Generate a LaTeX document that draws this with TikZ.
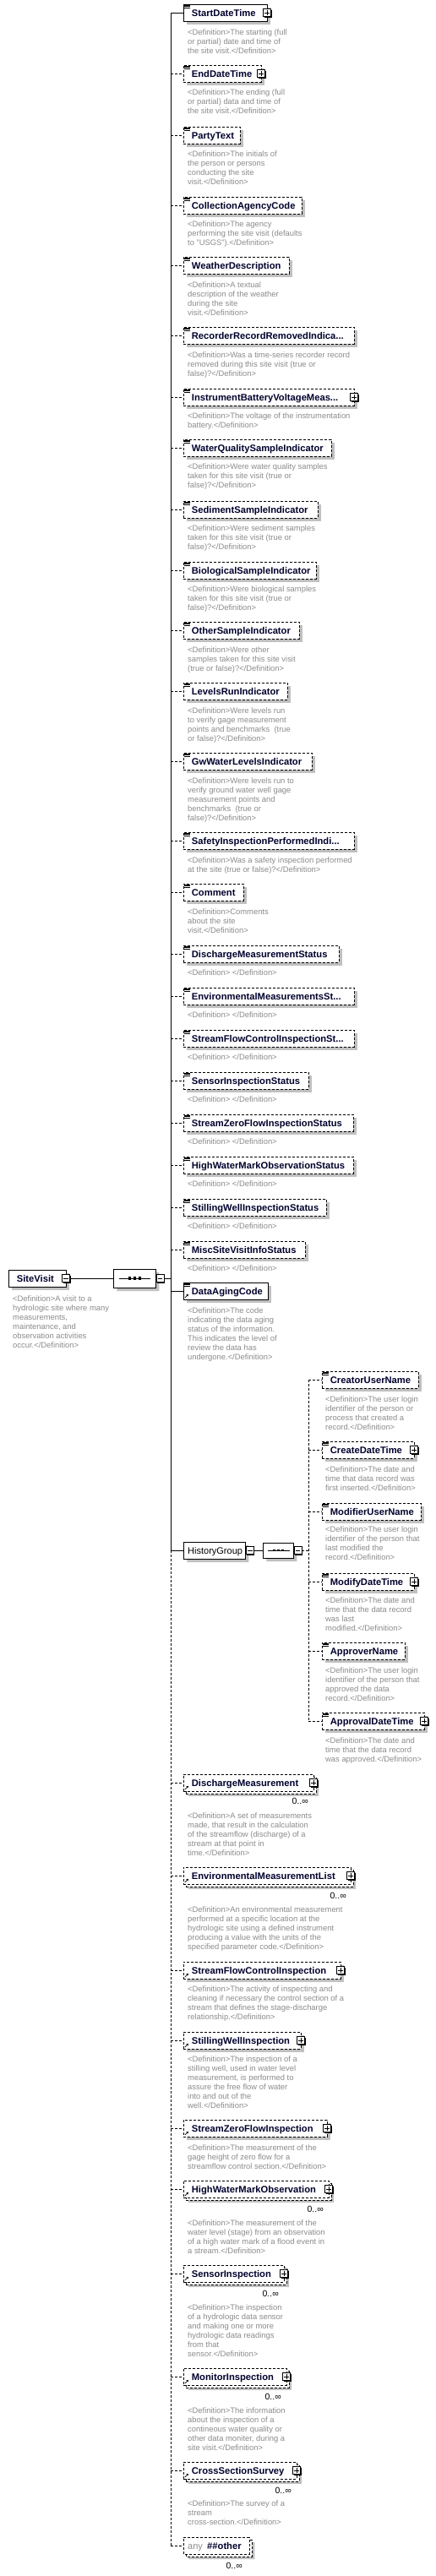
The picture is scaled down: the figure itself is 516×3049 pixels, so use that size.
\documentclass[tikz,border=0pt]{standalone}
\usepackage{fontspec}
\setmainfont{Liberation Sans}
\usetikzlibrary{shapes.misc,shadows,arrows.meta}
\definecolor{shgray}{RGB}{192,192,192}
\definecolor{defgray}{RGB}{140,140,140}
\definecolor{lblcol}{RGB}{0,0,45}
\tikzset{
 elbox/.style={draw=black, fill=white, line width=0.9pt, minimum height=20pt, inner sep=0pt, outer sep=0pt},
 shad/.style={drop shadow={shadow xshift=4pt, shadow yshift=-4pt, fill=shgray, opacity=1}},
 shadb/.style={drop shadow={shadow xshift=3pt, shadow yshift=-3pt, fill=shgray, opacity=1}},
 dsh/.style={dash pattern=on 3pt off 2pt},
 conn/.style={draw=black, line width=0.9pt},
 lbl/.style={inner sep=0pt, font=\fontsize{11.2}{13}\selectfont\bfseries, text=lblcol},
 glbl/.style={inner sep=0pt, font=\fontsize{11}{13}\selectfont},
 deftext/.style={inner sep=0pt, align=left, font=\fontsize{9.4}{11}\selectfont, text=defgray},
 occ/.style={inner sep=0pt, font=\fontsize{10.5}{12}\selectfont, text=black},
 icon/.style={line width=0.6pt, black},
 refarr/.style={line width=0.8pt, -{Stealth[length=2.6pt,width=2.8pt]}},
 pbox/.style={draw=black, fill=white, line width=0.8pt, minimum size=9pt, inner sep=0pt, drop shadow={shadow xshift=1pt, shadow yshift=-1pt, fill=black, opacity=1}},
 plusbox/.style={pbox, path picture={\draw[line width=0.8pt] ([xshift=-2.6pt]path picture bounding box.center) -- ([xshift=2.6pt]path picture bounding box.center) ([yshift=-2.6pt]path picture bounding box.center) -- ([yshift=2.6pt]path picture bounding box.center);}},
 minusbox/.style={pbox, path picture={\draw[line width=0.8pt] ([xshift=-2.6pt]path picture bounding box.center) -- ([xshift=2.6pt]path picture bounding box.center);}},
 oct/.style={chamfered rectangle, chamfered rectangle xsep=4pt, draw=black, fill=white, line width=0.9pt, minimum height=20pt, inner sep=0pt},
}
% #1 name #2 left #3 centre y #4 right #5 label #6 style
\newcommand\xEl[6]{%
 \node[elbox,#6,minimum width={#4-#2},anchor=west] (#1) at (#2,#3) {};
 \node[lbl,anchor=base west] (#1-t) at ([xshift=9.7pt,yshift=-4.2pt]#1.west) {#5};}
\newcommand\xBk[4]{%
 \node[elbox,dsh,shadb,minimum width={#4-#2},anchor=west] (#1) at ({#2+3},{#3+3}) {};}
\newcommand\xTx[1]{\draw[icon] ([shift={(1.4,1)}]#1.north west) -- ++(6.4,0) ([shift={(1.4,2.6)}]#1.north west) -- ++(6.4,0) ([shift={(1.4,4.2)}]#1.north west) -- ++(6.4,0);}
\newcommand\xRf[1]{\draw[refarr] ([shift={(2,-2.2)}]#1.south west) -- ++(4,-4);}
\newcommand\xPl[1]{\node[plusbox] (#1-p) at (#1.east) {};}
\newcommand\xMi[2]{\node[minusbox] (#1) at (#2) {};}
\newcommand\xDf[4]{\node[deftext,anchor=north west] (#1) at (#2,{#3-3.8}) {\rule{0pt}{7pt}#4};}
\newcommand\xOc[3]{\node[occ,anchor=base east] (#1) at (#2,{#3+3.6}) {0..∞};}
\newcommand\xCn[2]{\draw[conn,#2] (#1.west -| T) -- (#1.west);}
\newcommand\xCm[2]{\draw[conn,#2] (#1.west -| T2) -- (#1.west);}
\begin{document}
\begin{tikzpicture}[x=1pt,y=-1pt]
\fill[white] (0,0) rectangle (516,3049);
\useasboundingbox (0,0) rectangle (516,3049);
\coordinate (T) at (202,0);
\coordinate (T2) at (365,0);

% ---- root ----
\xEl{SiteVisit}{10}{1513}{78}{SiteVisit}{shad}
\xMi{SiteVisit-m}{SiteVisit.east}
\xDf{SiteVisit-d}{15}{1537}{<Definition>A visit to a\\hydrologic site where many\\measurements,\\maintenance, and\\observation activities\\occur.</Definition>}

\node[oct,shad,minimum width=50pt,minimum height=22pt,anchor=west] (Seq) at (134,1513) {};
\draw[line width=0.9pt] ([xshift=7pt]Seq.west) -- ([xshift=-7pt]Seq.east);
\fill ([xshift=-6pt]Seq.center) +(-1.6,-1.6) rectangle +(1.6,1.6);
\fill (Seq.center) +(-1.6,-1.6) rectangle +(1.6,1.6);
\fill ([xshift=6pt]Seq.center) +(-1.6,-1.6) rectangle +(1.6,1.6);
\xMi{Seq-m}{[xshift=4.5pt]Seq.east}
\draw[conn] (SiteVisit-m.east) -- (Seq.west);
\draw[conn] (Seq-m.east) -- (Seq-m.east -| T);

% ---- children ----
\xEl{StartDateTime}{217}{15}{316}{StartDateTime}{shad}\xTx{StartDateTime}\xPl{StartDateTime}
\xDf{StartDateTime-d}{222}{38}{<Definition>The starting (full\\or partial) date and time of\\the site visit.</Definition>}

\xEl{EndDateTime}{217}{87}{309}{EndDateTime}{dsh,shad}\xTx{EndDateTime}\xPl{EndDateTime}
\xDf{EndDateTime-d}{222}{109}{<Definition>The ending (full\\or partial) data and time of\\the site visit.</Definition>}

\xEl{PartyText}{217}{160}{284}{PartyText}{dsh,shad}\xTx{PartyText}
\xDf{PartyText-d}{222}{182}{<Definition>The initials of\\the person or persons\\conducting the site\\visit.</Definition>}

\xEl{CollectionAgencyCode}{217}{243}{357}{CollectionAgencyCode}{dsh,shad}\xTx{CollectionAgencyCode}
\xDf{CollectionAgencyCode-d}{222}{265}{<Definition>The agency\\performing the site visit (defaults\\to "USGS").</Definition>}

\xEl{WeatherDescription}{217}{314}{342}{WeatherDescription}{dsh,shad}\xTx{WeatherDescription}
\xDf{WeatherDescription-d}{222}{337}{<Definition>A textual\\description of the weather\\during the site\\visit.</Definition>}

\xEl{RecorderRecordRemovedIndicator}{217}{397}{419}{RecorderRecordRemovedIndica...}{dsh,shad}\xTx{RecorderRecordRemovedIndicator}
\xDf{RecorderRecordRemovedIndicator-d}{222}{420}{<Definition>Was a time-series recorder record\\removed during this site visit (true or\\false)?</Definition>}

\xEl{InstrumentBatteryVoltageMeasurement}{217}{470}{419}{InstrumentBatteryVoltageMeas...}{dsh,shad}\xTx{InstrumentBatteryVoltageMeasurement}\xPl{InstrumentBatteryVoltageMeasurement}
\xDf{InstrumentBatteryVoltageMeasurement-d}{222}{492}{<Definition>The voltage of the instrumentation\\battery.</Definition>}

\xEl{WaterQualitySampleIndicator}{217}{530}{392}{WaterQualitySampleIndicator}{dsh,shad}\xTx{WaterQualitySampleIndicator}
\xDf{WaterQualitySampleIndicator-d}{222}{552}{<Definition>Were water quality samples\\taken for this site visit (true or\\false)?</Definition>}

\xEl{SedimentSampleIndicator}{217}{603}{376}{SedimentSampleIndicator}{dsh,shad}\xTx{SedimentSampleIndicator}
\xDf{SedimentSampleIndicator-d}{222}{625}{<Definition>Were sediment samples\\taken for this site visit (true or\\false)?</Definition>}

\xEl{BiologicalSampleIndicator}{217}{675}{374}{BiologicalSampleIndicator}{dsh,shad}\xTx{BiologicalSampleIndicator}
\xDf{BiologicalSampleIndicator-d}{222}{697}{<Definition>Were biological samples\\taken for this site visit (true or\\false)?</Definition>}

\xEl{OtherSampleIndicator}{217}{746}{354}{OtherSampleIndicator}{dsh,shad}\xTx{OtherSampleIndicator}
\xDf{OtherSampleIndicator-d}{222}{769}{<Definition>Were other\\samples taken for this site visit\\(true or false)?</Definition>}

\xEl{LevelsRunIndicator}{217}{818}{340}{LevelsRunIndicator}{dsh,shad}\xTx{LevelsRunIndicator}
\xDf{LevelsRunIndicator-d}{222}{841}{<Definition>Were levels run\\to verify gage measurement\\points and benchmarks~ (true\\or false)?</Definition>}

\xEl{GwWaterLevelsIndicator}{217}{901}{369}{GwWaterLevelsIndicator}{dsh,shad}\xTx{GwWaterLevelsIndicator}
\xDf{GwWaterLevelsIndicator-d}{222}{924}{<Definition>Were levels run to\\verify ground water well gage\\measurement points and\\benchmarks~ (true or\\false)?</Definition>}

\xEl{SafetyInspectionPerformedIndicator}{217}{995}{419}{SafetyInspectionPerformedIndi...}{dsh,shad}\xTx{SafetyInspectionPerformedIndicator}
\xDf{SafetyInspectionPerformedIndicator-d}{222}{1018}{<Definition>Was a safety inspection performed\\at the site (true or false)?</Definition>}

\xEl{Comment}{217}{1056}{288}{Comment}{dsh,shad}\xTx{Comment}
\xDf{Comment-d}{222}{1079}{<Definition>Comments\\about the site\\visit.</Definition>}

\xEl{DischargeMeasurementStatus}{217}{1129}{401}{DischargeMeasurementStatus}{dsh,shad}\xTx{DischargeMeasurementStatus}
\xDf{DischargeMeasurementStatus-d}{222}{1151}{<Definition> </Definition>}

\xEl{EnvironmentalMeasurementsStatus}{217}{1179}{419}{EnvironmentalMeasurementsSt...}{dsh,shad}\xTx{EnvironmentalMeasurementsStatus}
\xDf{EnvironmentalMeasurementsStatus-d}{222}{1201}{<Definition> </Definition>}

\xEl{StreamFlowControlInspectionStatus}{217}{1229}{419}{StreamFlowControlInspectionSt...}{dsh,shad}\xTx{StreamFlowControlInspectionStatus}
\xDf{StreamFlowControlInspectionStatus-d}{222}{1251}{<Definition> </Definition>}

\xEl{SensorInspectionStatus}{217}{1279}{365}{SensorInspectionStatus}{dsh,shad}\xTx{SensorInspectionStatus}
\xDf{SensorInspectionStatus-d}{222}{1301}{<Definition> </Definition>}

\xEl{StreamZeroFlowInspectionStatus}{217}{1329}{418}{StreamZeroFlowInspectionStatus}{dsh,shad}\xTx{StreamZeroFlowInspectionStatus}
\xDf{StreamZeroFlowInspectionStatus-d}{222}{1351}{<Definition> </Definition>}

\xEl{HighWaterMarkObservationStatus}{217}{1379}{418}{HighWaterMarkObservationStatus}{dsh,shad}\xTx{HighWaterMarkObservationStatus}
\xDf{HighWaterMarkObservationStatus-d}{222}{1401}{<Definition> </Definition>}

\xEl{StillingWellInspectionStatus}{217}{1429}{386}{StillingWellInspectionStatus}{dsh,shad}\xTx{StillingWellInspectionStatus}
\xDf{StillingWellInspectionStatus-d}{222}{1451}{<Definition> </Definition>}

\xEl{MiscSiteVisitInfoStatus}{217}{1479}{361}{MiscSiteVisitInfoStatus}{dsh,shad}\xTx{MiscSiteVisitInfoStatus}
\xDf{MiscSiteVisitInfoStatus-d}{222}{1501}{<Definition> </Definition>}

\xEl{DataAgingCode}{217}{1528}{317}{DataAgingCode}{shad}\xTx{DataAgingCode}\xRf{DataAgingCode}
\xDf{DataAgingCode-d}{222}{1551}{<Definition>The code\\indicating the data aging\\status of the information.\\This indicates the level of\\review the data has\\undergone.</Definition>}

% ---- HistoryGroup ----
\node[oct,shad,minimum width=73pt,anchor=west] (HistoryGroup) at (217,1835) {};
\node[glbl,anchor=base west] (HistoryGroup-t) at ([xshift=5pt,yshift=-4pt]HistoryGroup.west) {HistoryGroup};
\xMi{HistoryGroup-m}{[xshift=5pt]HistoryGroup.east}
\node[oct,shad,minimum width=36pt,minimum height=18pt,anchor=west] (HSeq) at (311,1835) {};
\draw[line width=0.9pt] ([xshift=6pt]HSeq.west) -- ([xshift=-5pt]HSeq.east);
\fill ([xshift=-5pt]HSeq.center) +(-1.4,-1.4) rectangle +(1.4,1.4);
\fill (HSeq.center) +(-1.4,-1.4) rectangle +(1.4,1.4);
\fill ([xshift=5pt]HSeq.center) +(-1.4,-1.4) rectangle +(1.4,1.4);
\xMi{HSeq-m}{[xshift=4.5pt]HSeq.east}
\draw[conn] (HistoryGroup-m.east) -- (HSeq.west);
\draw[conn,dsh] (HSeq-m.east) -- (HSeq-m.east -| T2);

\xEl{CreatorUserName}{381}{1633}{495}{CreatorUserName}{dsh,shad}\xTx{CreatorUserName}
\xDf{CreatorUserName-d}{385}{1656}{<Definition>The user login\\identifier of the person or\\process that created a\\record.</Definition>}

\xEl{CreateDateTime}{381}{1716}{490}{CreateDateTime}{dsh,shad}\xTx{CreateDateTime}\xPl{CreateDateTime}
\xDf{CreateDateTime-d}{385}{1739}{<Definition>The date and\\time that data record was\\first inserted.</Definition>}

\xEl{ModifierUserName}{381}{1789}{498}{ModifierUserName}{dsh,shad}\xTx{ModifierUserName}
\xDf{ModifierUserName-d}{385}{1810}{<Definition>The user login\\identifier of the person that\\last modified the\\record.</Definition>}

\xEl{ModifyDateTime}{381}{1872}{490}{ModifyDateTime}{dsh,shad}\xTx{ModifyDateTime}\xPl{ModifyDateTime}
\xDf{ModifyDateTime-d}{385}{1894}{<Definition>The date and\\time that the data record\\was last\\modified.</Definition>}

\xEl{ApproverName}{381}{1954}{479}{ApproverName}{dsh,shad}\xTx{ApproverName}
\xDf{ApproverName-d}{385}{1977}{<Definition>The user login\\identifier of the person that\\approved the data\\record.</Definition>}

\xEl{ApprovalDateTime}{381}{2037}{502}{ApprovalDateTime}{dsh,shad}\xTx{ApprovalDateTime}\xPl{ApprovalDateTime}
\xDf{ApprovalDateTime-d}{385}{2060}{<Definition>The date and\\time that the data record\\was approved.</Definition>}

\draw[conn,dsh] (CreatorUserName.west -| T2) -- (ApprovalDateTime.west -| T2);
\xCm{CreatorUserName}{dsh}\xCm{CreateDateTime}{dsh}\xCm{ModifierUserName}{dsh}
\xCm{ModifyDateTime}{dsh}\xCm{ApproverName}{dsh}\xCm{ApprovalDateTime}{dsh}

% ---- references ----
\xBk{DischargeMeasurement-b}{217}{2110}{371}
\xEl{DischargeMeasurement}{217}{2110}{371}{DischargeMeasurement}{dsh}\xRf{DischargeMeasurement}\xPl{DischargeMeasurement}
\xOc{DischargeMeasurement-o}{365}{2132}
\xDf{DischargeMeasurement-d}{222}{2149}{<Definition>A set of measurements\\made, that result in the calculation\\of the streamflow (discharge) of a\\stream at that point in\\time.</Definition>}

\xBk{EnvironmentalMeasurementList-b}{217}{2220}{415}
\xEl{EnvironmentalMeasurementList}{217}{2220}{415}{EnvironmentalMeasurementList}{dsh}\xRf{EnvironmentalMeasurementList}\xPl{EnvironmentalMeasurementList}
\xOc{EnvironmentalMeasurementList-o}{410}{2244}
\xDf{EnvironmentalMeasurementList-d}{222}{2260}{<Definition>An environmental measurement\\performed at a specific location at the\\hydrologic site using a defined instrument\\producing a value with the units of the\\specified parameter code.</Definition>}

\xEl{StreamFlowControlInspection}{217}{2332}{403}{StreamFlowControlInspection}{dsh,shad}\xRf{StreamFlowControlInspection}\xPl{StreamFlowControlInspection}
\xDf{StreamFlowControlInspection-d}{222}{2354}{<Definition>The activity of inspecting and\\cleaning if necessary the control section of a\\stream that defines the stage-discharge\\relationship.</Definition>}

\xEl{StillingWellInspection}{217}{2415}{356}{StillingWellInspection}{dsh,shad}\xRf{StillingWellInspection}\xPl{StillingWellInspection}
\xDf{StillingWellInspection-d}{222}{2437}{<Definition>The inspection of a\\stilling well, used in water level\\measurement, is performed to\\assure the free flow of water\\into and out of the\\well.</Definition>}

\xEl{StreamZeroFlowInspection}{217}{2519}{387}{StreamZeroFlowInspection}{dsh,shad}\xRf{StreamZeroFlowInspection}\xPl{StreamZeroFlowInspection}
\xDf{StreamZeroFlowInspection-d}{222}{2542}{<Definition>The measurement of the\\gage height of zero flow for a\\streamflow control section.</Definition>}

\xBk{HighWaterMarkObservation-b}{217}{2591}{389}
\xEl{HighWaterMarkObservation}{217}{2591}{389}{HighWaterMarkObservation}{dsh}\xRf{HighWaterMarkObservation}\xPl{HighWaterMarkObservation}
\xOc{HighWaterMarkObservation-o}{383}{2615}
\xDf{HighWaterMarkObservation-d}{222}{2631}{<Definition>The measurement of the\\water level (stage) from an observation\\of a high water mark of a flood event in\\a stream.</Definition>}

\xBk{SensorInspection-b}{217}{2691}{336}
\xEl{SensorInspection}{217}{2691}{336}{SensorInspection}{dsh}\xRf{SensorInspection}\xPl{SensorInspection}
\xOc{SensorInspection-o}{330}{2715}
\xDf{SensorInspection-d}{222}{2731}{<Definition>The inspection\\of a hydrologic data sensor\\and making one or more\\hydrologic data readings\\from that\\sensor.</Definition>}

\xBk{MonitorInspection-b}{217}{2813}{339}
\xEl{MonitorInspection}{217}{2813}{339}{MonitorInspection}{dsh}\xRf{MonitorInspection}\xPl{MonitorInspection}
\xOc{MonitorInspection-o}{333}{2837}
\xDf{MonitorInspection-d}{222}{2853}{<Definition>The information\\about the inspection of a\\contineous water quality or\\other data moniter, during a\\site visit.</Definition>}

\xBk{CrossSectionSurvey-b}{217}{2924}{351}
\xEl{CrossSectionSurvey}{217}{2924}{351}{CrossSectionSurvey}{dsh}\xRf{CrossSectionSurvey}\xPl{CrossSectionSurvey}
\xOc{CrossSectionSurvey-o}{345}{2948}
\xDf{CrossSectionSurvey-d}{222}{2963}{<Definition>The survey of a\\stream\\cross-section.</Definition>}

\node[oct,dsh,shadb,minimum width=78pt,anchor=west] (any-b) at (220,3016) {};
\node[oct,dsh,minimum width=78pt,anchor=west] (any) at (217,3013) {};
\node[glbl,text=defgray,anchor=base west] (any-t1) at ([xshift=5pt,yshift=-4.2pt]any.west) {any};
\node[lbl,anchor=base west] (any-t2) at ([xshift=28pt,yshift=-4.2pt]any.west) {\#\#other};
\xOc{any-o}{287}{3037}

% ---- trunk and connectors ----
\draw[conn] (StartDateTime.west -| T) -- (HistoryGroup.west -| T);
\draw[conn,dsh] (HistoryGroup.west -| T) -- (any.west -| T);
\xCn{StartDateTime}{}
\xCn{EndDateTime}{dsh}\xCn{PartyText}{dsh}\xCn{CollectionAgencyCode}{dsh}
\xCn{WeatherDescription}{dsh}\xCn{RecorderRecordRemovedIndicator}{dsh}
\xCn{InstrumentBatteryVoltageMeasurement}{dsh}\xCn{WaterQualitySampleIndicator}{dsh}
\xCn{SedimentSampleIndicator}{dsh}\xCn{BiologicalSampleIndicator}{dsh}
\xCn{OtherSampleIndicator}{dsh}\xCn{LevelsRunIndicator}{dsh}
\xCn{GwWaterLevelsIndicator}{dsh}\xCn{SafetyInspectionPerformedIndicator}{dsh}
\xCn{Comment}{dsh}\xCn{DischargeMeasurementStatus}{dsh}
\xCn{EnvironmentalMeasurementsStatus}{dsh}\xCn{StreamFlowControlInspectionStatus}{dsh}
\xCn{SensorInspectionStatus}{dsh}\xCn{StreamZeroFlowInspectionStatus}{dsh}
\xCn{HighWaterMarkObservationStatus}{dsh}\xCn{StillingWellInspectionStatus}{dsh}
\xCn{MiscSiteVisitInfoStatus}{dsh}
\xCn{DataAgingCode}{}
\xCn{HistoryGroup}{}
\xCn{DischargeMeasurement}{dsh}\xCn{EnvironmentalMeasurementList}{dsh}
\xCn{StreamFlowControlInspection}{dsh}\xCn{StillingWellInspection}{dsh}
\xCn{StreamZeroFlowInspection}{dsh}\xCn{HighWaterMarkObservation}{dsh}
\xCn{SensorInspection}{dsh}\xCn{MonitorInspection}{dsh}
\xCn{CrossSectionSurvey}{dsh}\xCn{any}{dsh}
\end{tikzpicture}
\end{document}
